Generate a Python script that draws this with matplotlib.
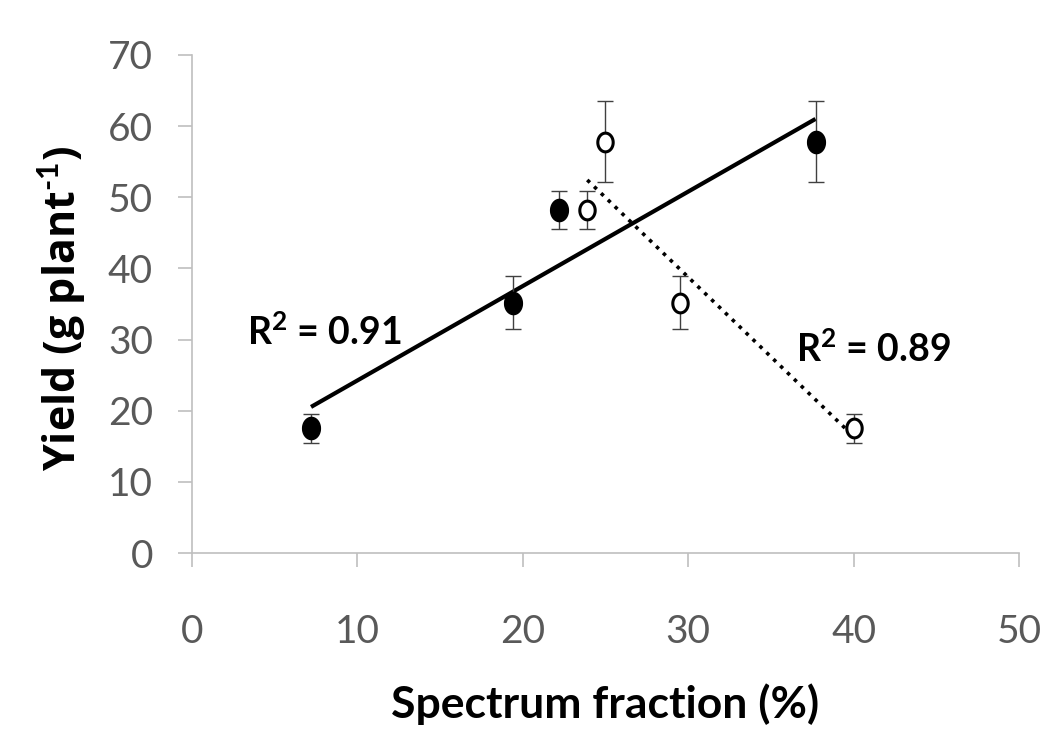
import numpy as np
import matplotlib
matplotlib.use("Agg")
import matplotlib.pyplot as plt
from matplotlib.path import Path

# ---- data ----
filled_x = [7.2, 19.4, 22.2, 37.7]
filled_y = [17.5, 35.2, 48.2, 57.8]
filled_err = [2.0, 3.7, 2.7, 5.7]

open_x = [23.9, 25.0, 29.5, 40.0]
open_y = [48.2, 57.8, 35.2, 17.5]
open_err = [2.7, 5.7, 3.7, 2.0]

r2_filled = "R$^2$ = 0.91"
r2_open = "R$^2$ = 0.89"
x_ticks = [0, 10, 20, 30, 40, 50]
y_ticks = [0, 10, 20, 30, 40, 50, 60, 70]

FONT = ['Lato', 'DejaVu Sans']
plt.rcParams['font.family'] = FONT
plt.rcParams['mathtext.fontset'] = 'custom'
plt.rcParams['mathtext.rm'] = 'Lato:bold'
plt.rcParams['mathtext.bf'] = 'Lato:bold'
plt.rcParams['mathtext.it'] = 'Lato:bold'

fig = plt.figure(figsize=(10.57, 7.31), dpi=100)
ax = fig.add_axes([0.1816, 0.2435, 0.964 - 0.1816, 0.9248 - 0.2435])

def ellipse(rx):
    t = np.linspace(0, 2 * np.pi, 60)
    return Path(np.column_stack([rx * np.cos(t), np.sin(t)]), closed=True)

# trendlines
for xs, ys, ls in [(filled_x, filled_y, '-'), (open_x, open_y, ':')]:
    k, b = np.polyfit(xs, ys, 1)
    xx = np.array([min(xs), max(xs)])
    ax.plot(xx, k * xx + b, color='black', lw=3.0 if ls == '-' else 2.6,
            linestyle=ls, zorder=2, solid_capstyle='butt')

for xs, ys, es in [(filled_x, filled_y, filled_err), (open_x, open_y, open_err)]:
    ax.errorbar(xs, ys, yerr=es, fmt='none', ecolor='#404040',
                elinewidth=1.0, capsize=5.5, capthick=1.0, zorder=3)

ax.plot(filled_x, filled_y, linestyle='none', marker=ellipse(0.8), markersize=16,
        markerfacecolor='black', markeredgecolor='black', zorder=4)
ax.plot(open_x, open_y, linestyle='none', marker=ellipse(0.82), markersize=13.5,
        markerfacecolor='white', markeredgecolor='black', markeredgewidth=2.2, zorder=4)

ax.set_xlim(0, 50)
ax.set_ylim(0, 70)
ax.set_xticks(x_ticks)
ax.set_yticks(y_ticks)
ax.tick_params(axis='both', colors='#bfbfbf', labelcolor='#595959',
               labelsize=28, length=10, width=1.2, direction='out')
ax.tick_params(axis='x', pad=34)
ax.tick_params(axis='y', pad=18)
for s in ['top', 'right']:
    ax.spines[s].set_visible(False)
for s in ['left', 'bottom']:
    ax.spines[s].set_color('#bfbfbf')
    ax.spines[s].set_linewidth(1.2)

ax.text(3.35, 31.0, r2_filled, fontsize=27, fontweight='bold', color='black',
        ha='left', va='center')
ax.text(36.55, 28.6, r2_open, fontsize=27, fontweight='bold', color='black',
        ha='left', va='center')

fig.text(0.572, 0.018, 'Spectrum fraction (%)', fontsize=32, fontweight='bold',
         ha='center', va='baseline')
fig.text(0.083, 0.578, r'Yield (g plant$^{\text{-}1}$)', fontsize=31, fontweight='bold',
         family=['Open Sans', 'DejaVu Sans'],
         ha='right', va='center', rotation=90)

fig.savefig('out.png', dpi=100, facecolor='white')
